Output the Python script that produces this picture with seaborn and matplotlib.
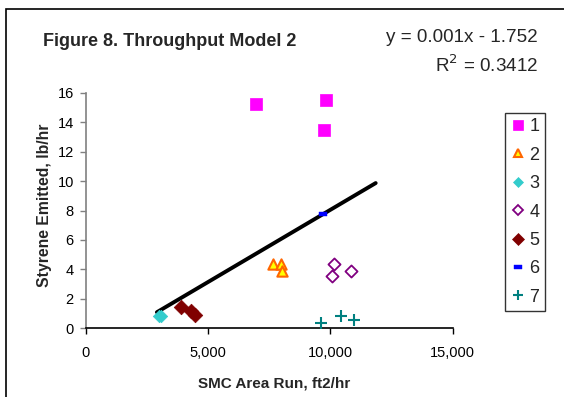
import matplotlib
matplotlib.use("Agg")
import matplotlib.pyplot as plt
import seaborn as sns
import pandas as pd
import numpy as np
from matplotlib.lines import Line2D
from matplotlib.patches import Rectangle

sns.set_theme(style="white")
plt.rcParams['font.family'] = ['Liberation Sans', 'DejaVu Sans']

# ---- data ----
series_names = ["1", "2", "3", "4", "5", "6", "7"]
x1 = [6940, 9830, 9750];        y1 = [15.2, 15.5, 13.44]
x2 = [7630, 7960, 8000];        y2 = [4.34, 4.34, 3.89]
x3 = [2980, 3050];              y3 = [0.86, 0.86]
x4 = [10140, 10050, 10840];     y4 = [4.34, 3.55, 3.91]
x5 = [3870, 4290, 4460];        y5 = [1.42, 1.17, 0.90]
x6 = [9690];                    y6 = [7.76]
x7 = [9600, 10440, 10970];      y7 = [0.38, 0.84, 0.56]
xs = [x1, x2, x3, x4, x5, x6, x7]
ys = [y1, y2, y3, y4, y5, y6, y7]

trend_x = [2900, 11850]
trend_slope = 0.00098
trend_intercept = -1.75

x_ticks = [0, 5000, 10000, 15000]
x_tick_labels = ["0", "5,000", "10,000", "15,000"]
y_ticks = [0, 2, 4, 6, 8, 10, 12, 14, 16]

rows = []
for n, xx, yy in zip(series_names, xs, ys):
    for a, b in zip(xx, yy):
        rows.append({"series": n, "x": a, "y": b})
df = pd.DataFrame(rows)

dash = [(-1, -0.45), (1, -0.45), (1, 0.45), (-1, 0.45), (-1, -0.45)]
styles = {
    "1": dict(marker="s", s=80, facecolor="#FF00FF", edgecolor="#FF00FF", lw=0.5),
    "2": dict(marker="^", s=55, facecolor="#FFFF00", edgecolor="#FF6600", lw=1.5),
    "3": dict(marker="D", s=40, facecolor="#33CCCC", edgecolor="#33CCCC", lw=0.5),
    "4": dict(marker="D", s=38, facecolor="white", edgecolor="#800080", lw=1.3),
    "5": dict(marker="D", s=55, facecolor="#800000", edgecolor="#800000", lw=0.5),
    "6": dict(marker=dash, s=40, facecolor="#0000FF", edgecolor="#0000FF", lw=0.3),
    "7": dict(marker="+", s=80, facecolor="#008080", edgecolor="#008080", lw=1.5),
}

H = 397.0
W = 564.0
fig = plt.figure(figsize=(5.64, 3.97), dpi=100)
# outer chart border
fig.patches.append(Rectangle((6/W, -0.2), 1, 1.2 - 9/H, transform=fig.transFigure,
                             fill=False, edgecolor="black", lw=1.2))
ax = fig.add_axes([86/W, 1 - 328.3/H, (452.7 - 86)/W, (328.3 - 92.7)/H])

# trend line
tx = np.array(trend_x)
sns.lineplot(x=tx, y=trend_slope * tx + trend_intercept, ax=ax, color="black", lw=2.8, zorder=3)

handles = []
for n in series_names:
    st = styles[n]
    sub = df[df.series == n]
    if st["marker"] == "+":
        sns.scatterplot(data=sub, x="x", y="y", ax=ax, marker="+", s=st["s"],
                        color=st["edgecolor"], linewidth=st["lw"], zorder=4, legend=False)
    else:
        sns.scatterplot(data=sub, x="x", y="y", ax=ax, marker=st["marker"], s=st["s"],
                        facecolor=st["facecolor"], edgecolor=st["edgecolor"],
                        linewidth=st["lw"], zorder=4, legend=False)
    handles.append(Line2D([], [], linestyle="none", marker=st["marker"],
                          markersize=np.sqrt(st["s"]) * 0.85,
                          markerfacecolor=st["facecolor"], markeredgecolor=st["edgecolor"],
                          markeredgewidth=st["lw"], color=st["edgecolor"]))

ax.set_xlim(0, 15000)
ax.set_ylim(0, 16)
ax.set_xticks(x_ticks)
ax.set_xticklabels(x_tick_labels)
ax.set_yticks(y_ticks)
ax.tick_params(axis="both", direction="out", length=4.3, width=1, labelsize=10.5,
               colors="black", pad=4.5, left=True, bottom=True)
ax.tick_params(axis="x", pad=8.7)
ax.tick_params(axis="y", color="#808080")
for s in ["top", "right"]:
    ax.spines[s].set_visible(False)
ax.spines["left"].set_color("#808080")
ax.spines["left"].set_linewidth(1.2)
ax.spines["bottom"].set_color("black")
ax.spines["bottom"].set_linewidth(1.2)
ax.set_xlabel("SMC Area Run, ft2/hr", fontsize=11, fontweight="bold")
ax.set_ylabel("Styrene Emitted, lb/hr", fontsize=11.3, fontweight="bold")
ax.xaxis.set_label_coords(0.513, -0.205)
ax.yaxis.set_label_coords(-0.092, 0.52)

fig.text(43/W, 1 - 46/H, "Figure 8. Throughput Model 2", fontsize=13, fontweight="bold",
         va="baseline", ha="left")
fig.text(538/W, 1 - 41.5/H, "y = 0.001x - 1.752", fontsize=13.6, va="baseline", ha="right")
fig.text(538/W, 1 - 72/H, "R$^2$ = 0.3412", fontsize=13.6, va="baseline", ha="right")

leg = fig.legend(handles, series_names, loc="upper left",
                 bbox_to_anchor=(505/W, 1 - 113/H), frameon=True, fontsize=13,
                 handlelength=0.8, handletextpad=0.25, labelspacing=0.63,
                 borderpad=0.3, borderaxespad=0, fancybox=False)
leg.get_frame().set_edgecolor("black")
leg.get_frame().set_linewidth(1.0)

fig.savefig("out.png", dpi=100)
